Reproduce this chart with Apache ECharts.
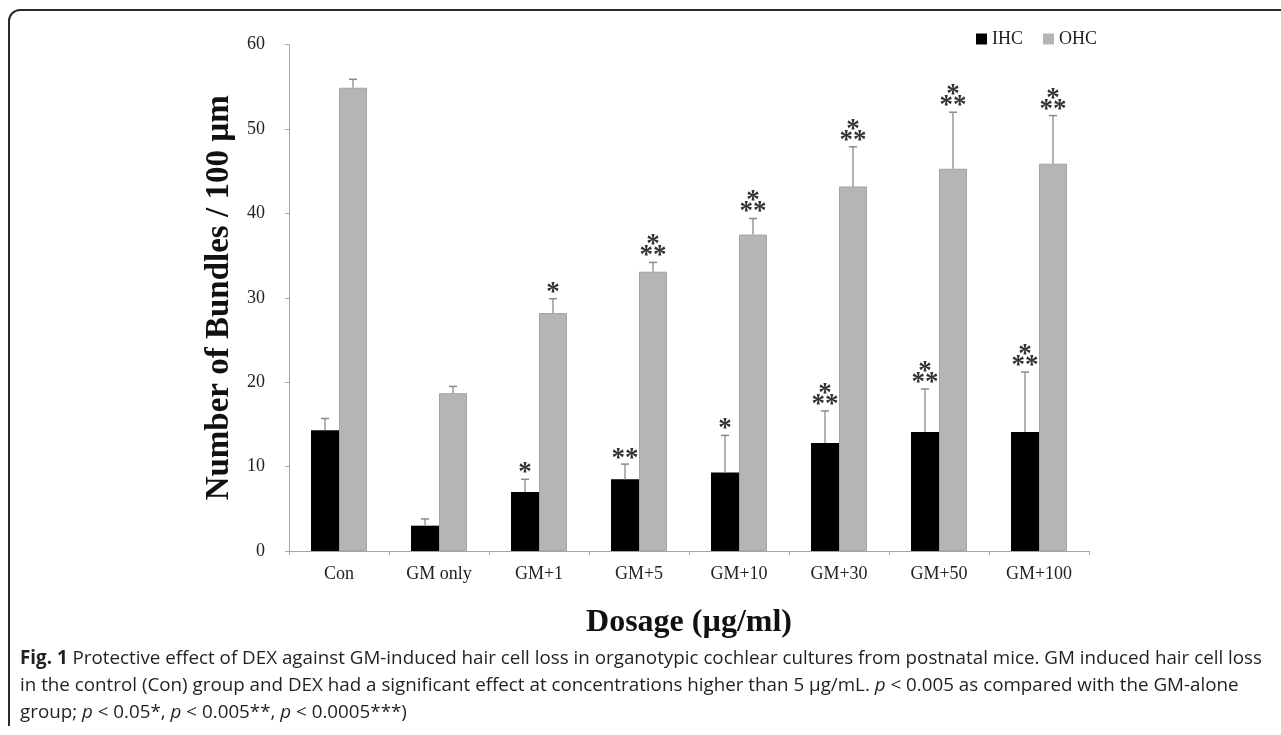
<!DOCTYPE html>
<html>
<head>
<meta charset="utf-8">
<script src="https://cdn.jsdelivr.net/npm/echarts@6/dist/echarts.min.js"></script>
<style>
html,body{margin:0;padding:0;background:#fff;}
#chart{width:1281px;height:735px;}
</style>
</head>
<body>
<div id="chart"></div>
<script>
// ---- data ----
const categories = ['Con', 'GM only', 'GM+1', 'GM+5', 'GM+10', 'GM+30', 'GM+50', 'GM+100'];
const ihcValues = [14.3, 3.0, 7.0, 8.5, 9.3, 12.8, 14.1, 14.1];
const ihcErrors = [1.4, 0.8, 1.5, 1.8, 4.4, 3.8, 5.1, 7.1];
const ohcValues = [54.9, 18.7, 28.2, 33.1, 37.5, 43.2, 45.3, 45.9];
const ohcErrors = [1.0, 0.8, 1.7, 1.1, 1.9, 4.7, 6.7, 5.7];
const ihcSignif = ['', '', '*', '**', '*', '***', '***', '***'];
const ohcSignif = ['', '', '*', '***', '***', '***', '***', '***'];
const seriesNames = ['IHC', 'OHC'];
const yAxisName = 'Number of Bundles / 100 µm';
const xAxisName = 'Dosage (µg/ml)';
const yMin = 0, yMax = 60, yInterval = 10;
const captionLines = [
  [{t: 'Fig. 1', s: 'b'}, {t: ' Protective effect of DEX against GM-induced hair cell loss in organotypic cochlear cultures from postnatal mice. GM induced hair cell loss'}],
  [{t: 'in the control (Con) group and DEX had a significant effect at concentrations higher than 5 µg/mL. '}, {t: 'p', s: 'i'}, {t: ' < 0.005 as compared with the GM-alone'}],
  [{t: 'group; '}, {t: 'p', s: 'i'}, {t: ' < 0.05*, '}, {t: 'p', s: 'i'}, {t: ' < 0.005**, '}, {t: 'p', s: 'i'}, {t: ' < 0.0005***)'}]
];

// ---- styling ----
const serif = '"Liberation Serif", "Times New Roman", serif';
const capFont = '"Open Sans", "Noto Sans", sans-serif';
const capSize = 19;
const BAR_PCT = 0.28;

// measure caption to fit width
const cv = document.createElement('canvas').getContext('2d');
function fontFor(s) {
  const st = s === 'i' ? 'italic ' : '';
  const wt = s === 'b' ? 'bold ' : '';
  return st + wt + capSize + 'px ' + capFont;
}
function measureLine(segs) {
  let w = 0;
  segs.forEach(g => { cv.font = fontFor(g.s); w += cv.measureText(g.t).width; });
  return w;
}
const capScale = 1242 / measureLine(captionLines[0]);
function richText(segs) {
  return segs.map(g => '{' + (g.s || 'n') + '|' + g.t + '}').join('');
}
const richStyles = {
  n: {fontFamily: capFont, fontSize: capSize, fill: '#231f20'},
  b: {fontFamily: capFont, fontSize: capSize, fontWeight: 'bold', fill: '#231f20'},
  i: {fontFamily: capFont, fontSize: capSize, fontStyle: 'italic', fill: '#231f20'}
};
const capY = [659, 686, 713];
const captionGraphics = captionLines.map((segs, k) => ({
  type: 'text', x: 20, y: capY[k], scaleX: capScale, silent: true,
  style: {text: richText(segs), rich: richStyles, fontFamily: capFont, fontSize: capSize,
          fill: '#231f20', verticalAlign: 'middle', align: 'left'}
}));

function errSeries(values, errors, signif, side) {
  return {
    type: 'custom', z: 5, silent: true,
    data: values.map((v, i) => [i, v, errors[i]]),
    encode: {x: 0, y: 1},
    renderItem: function (params, api) {
      const i = api.value(0), v = api.value(1), e = api.value(2);
      const lab = signif[i];
      const catW = api.size([1, 0])[0];
      const off = side * catW * BAR_PCT / 2;
      const p0 = api.coord([i, v]);
      const p1 = api.coord([i, v + e]);
      const x = p0[0] + off;
      const children = [
        {type: 'line', shape: {x1: x, y1: p0[1], x2: x, y2: p1[1]}, style: {stroke: '#9a9a9a', lineWidth: 1.5}},
        {type: 'line', shape: {x1: x - 4, y1: p1[1], x2: x + 4, y2: p1[1]}, style: {stroke: '#8a8a8a', lineWidth: 1.5}}
      ];
      const starStyle = {fontFamily: serif, fontSize: 27, fontWeight: 'bold', fill: '#333', align: 'center', verticalAlign: 'middle'};
      if (lab === '*') {
        children.push({type: 'text', x: x, y: p1[1] - 6, style: Object.assign({text: '*'}, starStyle)});
      } else if (lab === '**') {
        children.push({type: 'text', x: x, y: p1[1] - 5, style: Object.assign({text: '**'}, starStyle)});
      } else if (lab === '***') {
        children.push({type: 'text', x: x, y: p1[1] - 6, style: Object.assign({text: '**'}, starStyle)});
        children.push({type: 'text', x: x, y: p1[1] - 17, style: Object.assign({text: '*'}, starStyle)});
      }
      return {type: 'group', children: children};
    }
  };
}

const frameStyle = {stroke: '#2b2b2b', lineWidth: 2, fill: null};
const chart = echarts.init(document.getElementById('chart'));
chart.setOption({
  animation: false,
  backgroundColor: '#fff',
  grid: {left: 289, right: 192, top: 44.7, bottom: 184, containLabel: false},
  legend: {
    data: seriesNames, left: 976, top: 30, padding: 0, icon: 'rect', itemWidth: 11, itemHeight: 11, itemGap: 20,
    itemStyle: {borderWidth: 0},
    textStyle: {fontFamily: serif, fontSize: 18, color: '#222'}
  },
  xAxis: {
    type: 'category', data: categories,
    name: xAxisName, nameLocation: 'middle', nameGap: 56,
    nameTextStyle: {fontFamily: serif, fontSize: 32, fontWeight: 'bold', color: '#111'},
    axisLine: {lineStyle: {color: '#a6a6a6', width: 1}},
    axisTick: {show: true, length: 4, lineStyle: {color: '#a6a6a6'}},
    axisLabel: {fontFamily: serif, fontSize: 18, color: '#222', margin: 14}
  },
  yAxis: {
    type: 'value', min: yMin, max: yMax, interval: yInterval,
    name: yAxisName, nameLocation: 'middle', nameGap: 52,
    nameTextStyle: {fontFamily: serif, fontSize: 33, fontWeight: 'bold', color: '#111'},
    axisLine: {show: true, lineStyle: {color: '#a6a6a6', width: 1}},
    axisTick: {show: true, length: 4, lineStyle: {color: '#a6a6a6'}},
    splitLine: {show: false},
    axisLabel: {fontFamily: serif, fontSize: 18, color: '#222', margin: 24}
  },
  series: [
    {name: seriesNames[0], type: 'bar', data: ihcValues, barWidth: (BAR_PCT * 100) + '%', barGap: '0%',
     itemStyle: {color: '#000'}},
    {name: seriesNames[1], type: 'bar', data: ohcValues, barWidth: (BAR_PCT * 100) + '%', barGap: '0%',
     itemStyle: {color: '#b5b5b5', borderColor: '#a3a3a3', borderWidth: 1}},
    errSeries(ihcValues, ihcErrors, ihcSignif, -1),
    errSeries(ohcValues, ohcErrors, ohcSignif, 1)
  ],
  graphic: [
    {type: 'line', silent: true, shape: {x1: 9, y1: 726, x2: 9, y2: 21}, style: frameStyle},
    {type: 'arc', silent: true, shape: {cx: 20, cy: 21, r: 11, startAngle: Math.PI, endAngle: Math.PI * 1.5, clockwise: true}, style: frameStyle},
    {type: 'line', silent: true, shape: {x1: 20, y1: 10, x2: 1281, y2: 10}, style: frameStyle}
  ].concat(captionGraphics)
});
</script>
</body>
</html>
